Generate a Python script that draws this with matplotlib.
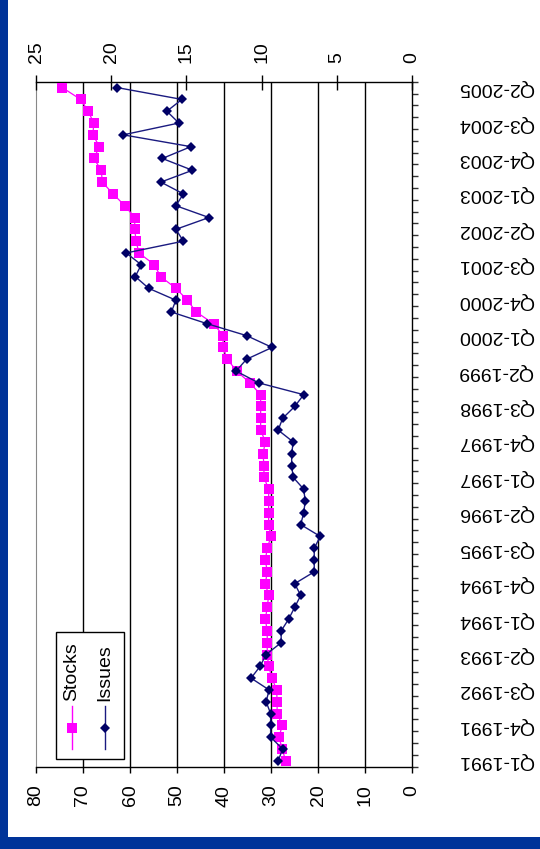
import numpy as np
import matplotlib
matplotlib.use("Agg")
import matplotlib.pyplot as plt
from matplotlib.patches import Rectangle
from matplotlib.lines import Line2D

plt.rcParams['font.family'] = ['Liberation Sans', 'DejaVu Sans']

# Quarterly series, Q1-1991 .. Q2-2005
quarters = [
    "Q1-1991", "Q2-1991", "Q3-1991", "Q4-1991",
    "Q1-1992", "Q2-1992", "Q3-1992", "Q4-1992",
    "Q1-1993", "Q2-1993", "Q3-1993", "Q4-1993",
    "Q1-1994", "Q2-1994", "Q3-1994", "Q4-1994",
    "Q1-1995", "Q2-1995", "Q3-1995", "Q4-1995",
    "Q1-1996", "Q2-1996", "Q3-1996", "Q4-1996",
    "Q1-1997", "Q2-1997", "Q3-1997", "Q4-1997",
    "Q1-1998", "Q2-1998", "Q3-1998", "Q4-1998",
    "Q1-1999", "Q2-1999", "Q3-1999", "Q4-1999",
    "Q1-2000", "Q2-2000", "Q3-2000", "Q4-2000",
    "Q1-2001", "Q2-2001", "Q3-2001", "Q4-2001",
    "Q1-2002", "Q2-2002", "Q3-2002", "Q4-2002",
    "Q1-2003", "Q2-2003", "Q3-2003", "Q4-2003",
    "Q1-2004", "Q2-2004", "Q3-2004", "Q4-2004",
    "Q1-2005", "Q2-2005",
]

stocks = [
    26.9, 27.6, 28.3, 27.6, 28.7, 28.7, 28.8, 29.8,
    30.5, 30.8, 30.8, 30.8, 31.2, 30.8, 30.5, 31.2,
    30.8, 31.2, 30.8, 30.0, 30.5, 30.5, 30.5, 30.5,
    31.5, 31.5, 31.7, 31.2, 32.2, 32.2, 32.2, 32.2,
    34.5, 37.3, 39.3, 40.2, 40.2, 42.2, 45.9, 47.8,
    50.2, 53.5, 54.8, 58.1, 58.7, 59.0, 59.0, 61.1,
    63.6, 65.9, 66.1, 67.7, 66.5, 67.9, 67.7, 68.9,
    70.5, 74.4,
]

issues = [
    8.9, 8.6, 9.4, 9.4, 9.4, 9.7, 9.5, 10.7,
    10.1, 9.7, 8.7, 8.7, 8.2, 7.8, 7.4, 7.8,
    6.5, 6.5, 6.5, 6.1, 7.4, 7.2, 7.1, 7.2,
    7.9, 8.0, 8.0, 7.9, 8.9, 8.6, 7.8, 7.2,
    10.2, 11.7, 11.0, 9.3, 11.0, 13.6, 16.0, 15.7,
    17.5, 18.4, 18.0, 19.0, 15.2, 15.7, 13.5, 15.7,
    15.2, 16.7, 14.6, 16.6, 14.7, 19.2, 15.5, 16.3,
    15.3, 19.6,
]

stock_ticks = [0, 10, 20, 30, 40, 50, 60, 70, 80]
issue_ticks = [0, 5, 10, 15, 20, 25]

W, H = 540, 849
DPI = 100
PX = 72.0 / DPI  # points per pixel
FS = 14

fig = plt.figure(figsize=(W / DPI, H / DPI), dpi=DPI, facecolor='white')

# dark blue slide frame
frame_blue = '#003399'
fig.patches.append(Rectangle((0, 0), 8 / W, 1, transform=fig.transFigure,
                             facecolor=frame_blue, edgecolor='none', zorder=0))
fig.patches.append(Rectangle((0, 0), 1, 12 / H, transform=fig.transFigure,
                             facecolor=frame_blue, edgecolor='none', zorder=0))

left, right, top, bottom = 36, 412, 81.7, 766.7
ax = fig.add_axes([left / W, 1 - bottom / H, (right - left) / W, (bottom - top) / H])
ax.set_facecolor('white')

idx = np.arange(len(quarters))

# stock count axis (bottom), reversed
ax.set_xlim(80, 0)
ax.set_ylim(-0.5, len(quarters) - 0.5)
ax.set_xticks(stock_ticks)
ax.set_xticklabels([str(t) for t in stock_ticks], rotation=90, fontsize=FS)
ax.tick_params(axis='x', direction='out', length=6 * PX, width=1, pad=12 * PX,
               color='black', labelcolor='black')
for g in stock_ticks[1:-1]:
    ax.axvline(g, color='black', lw=1.0, zorder=1)

# category axis on the right
ax.yaxis.tick_right()
ax.set_yticks(idx[::3])
ax.set_yticklabels([quarters[i] for i in idx[::3]], rotation=180, fontsize=FS)
for lab in ax.get_yticklabels():
    lab.set_va('center')
ax.set_yticks(np.arange(-0.5, len(quarters), 1.0), minor=True)
ax.tick_params(axis='y', which='major', length=0, pad=46 * PX, labelcolor='black')
ax.tick_params(axis='y', which='minor', direction='out', length=6 * PX, width=1,
               color='#333333')

for side in ('top', 'right', 'bottom'):
    ax.spines[side].set_color('black')
    ax.spines[side].set_linewidth(1.0)
ax.spines['left'].set_color('#888888')
ax.spines['left'].set_linewidth(0.8)

ax.plot(stocks, idx, color='#FF00FF', lw=0.9, marker='s', ms=7.2,
        mec='#FF00FF', mew=0, zorder=3)

# issue count axis (top), reversed
ax2 = ax.twiny()
ax2.set_xlim(25, 0)
ax2.set_xticks(issue_ticks)
ax2.set_xticklabels([str(t) for t in issue_ticks], rotation=90, fontsize=FS)
ax2.tick_params(axis='x', direction='inout', length=15 * PX, width=1,
                pad=11 * PX, color='black', labelcolor='black')
for s in ax2.spines.values():
    s.set_visible(False)

ax2.plot(issues, idx, color='#1a1a80', lw=1.0, marker='D', ms=5.4,
         mfc='#000066', mec='#000066', mew=0, zorder=4)

# legend block, drawn in axes coordinates
def ax_x(px):
    return (px - left) / (right - left)

def ax_y(py):
    return (bottom - py) / (bottom - top)

leg_box = Rectangle((ax_x(55.5), ax_y(759)), ax_x(124) - ax_x(55.5),
                    ax_y(632) - ax_y(759), transform=ax2.transAxes,
                    facecolor='white', edgecolor='black', lw=1.0, zorder=10)
ax2.add_patch(leg_box)

entries = [("Stocks", 72, '#FF00FF', '#FF00FF', 's', 7.2),
           ("Issues", 105, '#1a1a80', '#000066', 'D', 5.4)]
for label, xp, lc, mc, mk, ms in entries:
    ax2.add_line(Line2D([ax_x(xp), ax_x(xp)], [ax_y(706), ax_y(749)],
                        transform=ax2.transAxes, color=lc, lw=1.0, zorder=11))
    ax2.add_line(Line2D([ax_x(xp)], [ax_y(727.5)], transform=ax2.transAxes,
                        marker=mk, ms=ms, mfc=mc, mec=mc, mew=0, ls='none',
                        zorder=12))
    ax2.text(ax_x(xp), ax_y(701), label, transform=ax2.transAxes, rotation=90,
             rotation_mode='anchor', ha='left', va='center', fontsize=FS,
             color='black', zorder=12)

fig.savefig('out.png', dpi=DPI, facecolor='white')
